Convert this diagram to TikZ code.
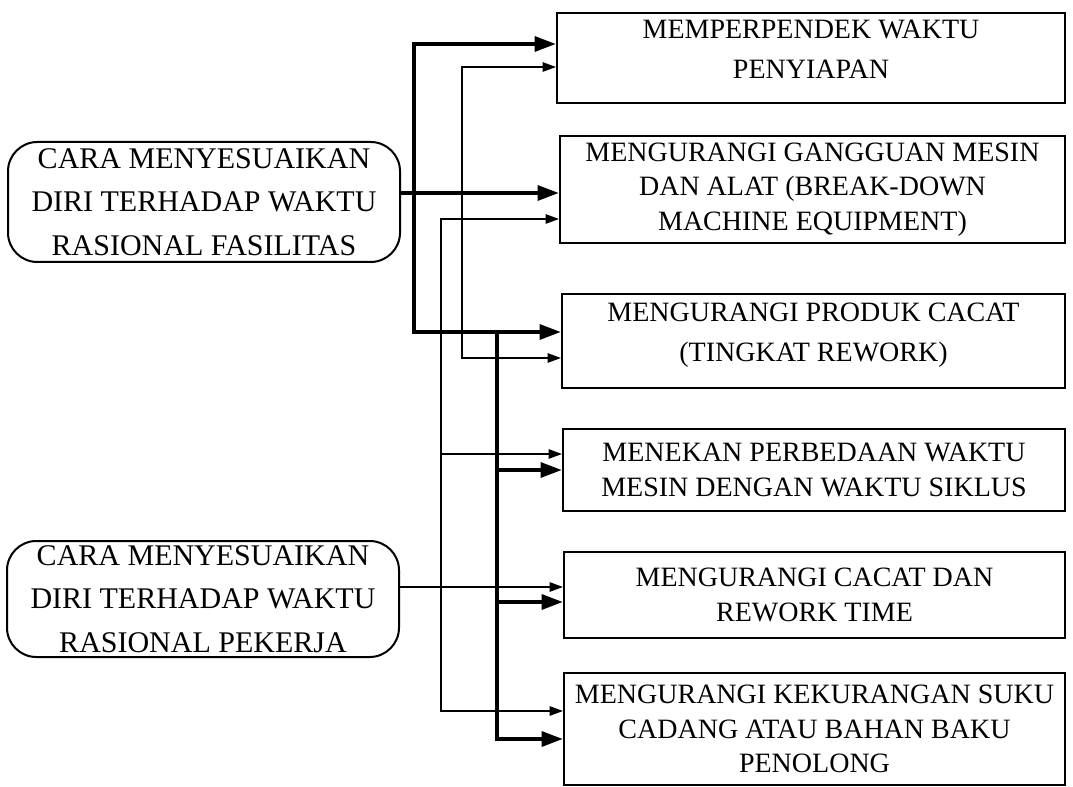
\documentclass[tikz,border=0pt]{standalone}
\usepackage{fontspec}
\setmainfont{Liberation Serif}
\usetikzlibrary{arrows.meta,positioning,calc}

\begin{document}
\begin{tikzpicture}[
        x=0.75pt,y=-0.75pt,
        source/.style={draw,line width=1.5pt,rounded corners=22pt,minimum width=294pt,minimum height=90pt,align=center,inner sep=0pt,font=\fontsize{22.5}{32.5}\selectfont},
        goal/.style={draw,line width=1.5pt,anchor=north west,align=center,inner sep=0pt,font=\fontsize{21}{26}\selectfont},
        raised/.style={text depth=13pt,font=\fontsize{21}{30}\selectfont},
        heavy/.style={line width=3pt,-{Triangle[length=16pt,width=11pt]}},
        heavyboth/.style={line width=3pt,{Triangle[length=16pt,width=11pt]}-{Triangle[length=16pt,width=11pt]}},
        light/.style={line width=1.2pt,-{Triangle[length=10pt,width=7pt]}},
        lightboth/.style={line width=1.2pt,{Triangle[length=10pt,width=7pt]}-{Triangle[length=10pt,width=7pt]}}
    ]
        \useasboundingbox (0,0) rectangle (1073,787);

        \node[source] (fasilitas) at (204,202) {CARA MENYESUAIKAN\\DIRI TERHADAP WAKTU\\RASIONAL FASILITAS};
        \node[source,minimum height=87pt] (pekerja) at (203,599) {CARA MENYESUAIKAN\\DIRI TERHADAP WAKTU\\RASIONAL PEKERJA};

        \node[goal,raised,minimum width=381pt,minimum height=67.5pt] (setup) at (556,12) {MEMPERPENDEK WAKTU\\PENYIAPAN};
        \node[goal,minimum width=378.75pt,minimum height=80.25pt] (breakdown) at (559,135) {MENGURANGI GANGGUAN MESIN\\DAN ALAT (BREAK-DOWN\\MACHINE EQUIPMENT)};
        \node[goal,raised,minimum width=377.25pt,minimum height=70.5pt] (defect) at (561,293) {MENGURANGI PRODUK CACAT\\(TINGKAT REWORK)};
        \node[goal,minimum width=376.5pt,minimum height=61.5pt] (cycle) at (562,428) {MENEKAN PERBEDAAN WAKTU\\MESIN DENGAN WAKTU SIKLUS};
        \node[goal,minimum width=375.75pt,minimum height=64.5pt] (rework) at (563,551) {MENGURANGI CACAT DAN\\REWORK TIME};
        \node[goal,minimum width=375.75pt,minimum height=84pt] (parts) at (563,672) {MENGURANGI KEKURANGAN SUKU\\CADANG ATAU BAHAN BAKU\\PENOLONG};

        % trunk points
        \coordinate (fa) at (414,44);
        \coordinate (fb) at (414,193);
        \coordinate (fc) at (414,332);
        \coordinate (ga) at (497,332);
        \coordinate (gb) at (497,470);
        \coordinate (gc) at (497,602);
        \coordinate (gd) at (497,739);
        \coordinate (ha) at (462,67);
        \coordinate (hb) at (462,358);
        \coordinate (pa) at (441,219);
        \coordinate (pb) at (441,454);
        \coordinate (pc) at (441,711);
        \coordinate (pe) at (441,587);

        \draw[heavyboth] (fa -| setup.west) -- (fa) -- (fc) -- (fc -| defect.west);
        \draw[heavy] (fasilitas.east |- fb) -- (fb -| breakdown.west);
        \draw[heavy] (ga) -- (gd) -- (gd -| parts.west);
        \draw[heavy] (gb) -- (gb -| cycle.west);
        \draw[heavy] (gc) -- (gc -| rework.west);

        \draw[lightboth] (ha -| setup.west) -- (ha) -- (hb) -- (hb -| defect.west);
        \draw[lightboth] (pa -| breakdown.west) -- (pa) -- (pc) -- (pc -| parts.west);
        \draw[light] (pb) -- (pb -| cycle.west);
        \draw[light] (pekerja.east |- pe) -- (pe -| rework.west);
    \end{tikzpicture}
\end{document}
